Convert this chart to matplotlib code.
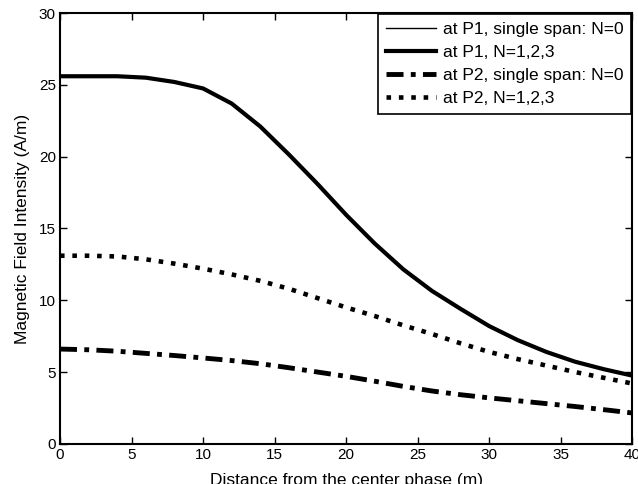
import matplotlib.pyplot as plt

plt.rcParams['font.family'] = ['Liberation Sans', 'DejaVu Sans']

# distance from the center phase (m)
dist = [0, 2, 4, 6, 8, 10, 12, 14, 16, 18, 20, 22, 24, 26, 28, 30, 32, 34, 36, 38, 40]

# magnetic field intensity (A/m)
p1_single = [25.6, 25.6, 25.6, 25.5, 25.2, 24.75, 23.7, 22.1, 20.15, 18.1, 15.95,
             13.95, 12.15, 10.65, 9.4, 8.2, 7.22, 6.4, 5.72, 5.2, 4.75]
p1_multi = [25.6, 25.6, 25.6, 25.5, 25.2, 24.75, 23.7, 22.1, 20.15, 18.1, 15.95,
            13.95, 12.15, 10.65, 9.4, 8.2, 7.22, 6.4, 5.72, 5.2, 4.75]
p2_single = [6.6, 6.55, 6.45, 6.3, 6.15, 5.98, 5.8, 5.58, 5.3, 5.0, 4.7,
             4.36, 4.0, 3.68, 3.42, 3.2, 3.0, 2.8, 2.6, 2.38, 2.15]
p2_multi = [13.1, 13.1, 13.05, 12.85, 12.55, 12.2, 11.8, 11.35, 10.8, 10.15, 9.5,
            8.9, 8.25, 7.65, 7.0, 6.4, 5.9, 5.45, 5.0, 4.6, 4.2]

labels = ['at P1, single span: N=0', 'at P1, N=1,2,3',
          'at P2, single span: N=0', 'at P2, N=1,2,3']

fig = plt.figure(figsize=(6.38, 4.84), dpi=100)
ax = fig.add_axes([0.094, 0.083, 0.897, 0.890])

ax.plot(dist, p1_single, color='black', lw=1.0, label=labels[0])
ax.plot(dist, p1_multi, color='black', lw=3.0, label=labels[1])
ax.plot(dist, p2_single, color='black', lw=3.5, dashes=(3.5, 1.5, 1, 1.5),
        dash_capstyle='butt', label=labels[2])
ax.plot(dist, p2_multi, color='black', lw=3.3, dashes=(1, 1.7),
        dash_capstyle='butt', label=labels[3])

ax.set_xlim(0, 40)
ax.set_ylim(0, 30)
ax.set_xticks(range(0, 41, 5))
ax.set_yticks(range(0, 31, 5))
ax.tick_params(direction='in', length=5, width=1, top=True, right=True,
               labelsize=11, pad=3)
for s in ax.spines.values():
    s.set_linewidth(1.5)

ax.set_xlabel('Distance from the center phase (m)', fontsize=12.5, labelpad=8)
ax.set_ylabel('Magnetic Field Intensity (A/m)', fontsize=12.5, labelpad=6)

leg = ax.legend(loc='upper right', fontsize=12.5, handlelength=2.9,
                borderaxespad=0.05, fancybox=False, framealpha=1,
                edgecolor='black', labelspacing=0.45, borderpad=0.45,
                handletextpad=0.4)
leg.get_frame().set_linewidth(1.2)

plt.savefig('out.png', dpi=100)
plt.close()
